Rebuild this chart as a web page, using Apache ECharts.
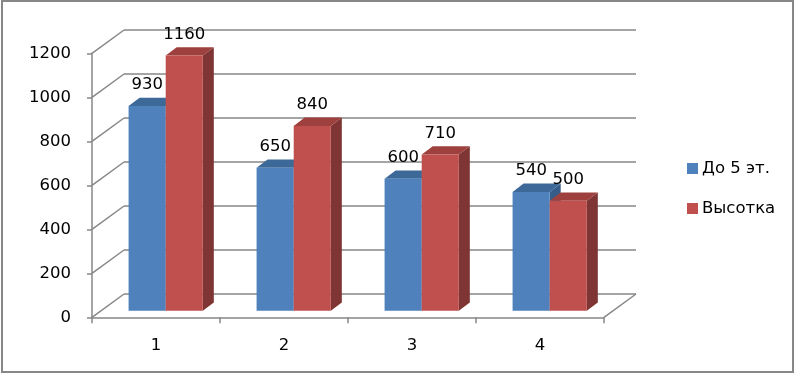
<!DOCTYPE html>
<html>
<head>
<meta charset="utf-8">
<script src="https://cdn.jsdelivr.net/npm/echarts@6/dist/echarts.min.js"></script>
<style>
html,body{margin:0;padding:0;background:#fff;}
#chart{width:798px;height:378px;}
</style>
</head>
<body>
<div id="chart"></div>
<script>
// ---- data ----
const categories = ['1', '2', '3', '4'];
const seriesNames = ['До 5 эт.', 'Высотка'];
const lowRise = [930, 650, 600, 540];
const highRise = [1160, 840, 710, 500];
const yTicks = [0, 200, 400, 600, 800, 1000, 1200];

// ---- styling / projection constants ----
const FONT = 'DejaVu Sans';
const FS = 16.5;
const GRID_COLOR = '#878787';
const WALL_DX = 32, WALL_DY = -23.3;   // depth of the chart box
const BAR_DX = 9.7, BAR_DY = -6.6;     // bars sit inside the depth
const SIDE_DX = 11, SIDE_DY = -8.3;    // depth of each bar
const BAR_FRAC = 0.29;
const palettes = [
  {front: '#4F81BD', top: '#3D6999', side: '#365D8A'},
  {front: '#C0504D', top: '#9E403D', side: '#7E3533'}
];

const chart = echarts.init(document.getElementById('chart'));

function barRender(sIdx) {
  return function (params, api) {
    const i = api.value(0), v = api.value(1);
    const c = api.coord([i, v]);
    const c0 = api.coord([i, 0]);
    const band = api.size([1, 0])[0];
    const bw = band * BAR_FRAC;
    const cx = c[0] + BAR_DX;
    const x0 = sIdx === 0 ? cx - bw : cx;
    const x1 = x0 + bw;
    const yt = c[1] + BAR_DY, yb = c0[1] + BAR_DY;
    const p = palettes[sIdx];
    return {
      type: 'group',
      children: [
        {type: 'polygon', shape: {points: [[x1, yt], [x1 + SIDE_DX, yt + SIDE_DY], [x1 + SIDE_DX, yb + SIDE_DY], [x1, yb]]}, style: {fill: p.side}},
        {type: 'polygon', shape: {points: [[x0, yt], [x1, yt], [x1 + SIDE_DX, yt + SIDE_DY], [x0 + SIDE_DX, yt + SIDE_DY]]}, style: {fill: p.top}},
        {type: 'rect', shape: {x: x0, y: yt, width: bw, height: yb - yt}, style: {fill: p.front}}
      ]
    };
  };
}

function labelRender(sIdx) {
  return function (params, api) {
    const i = api.value(0), v = api.value(1);
    const c = api.coord([i, v]);
    const band = api.size([1, 0])[0];
    const bw = band * BAR_FRAC;
    const cx = c[0] + BAR_DX;
    const xm = sIdx === 0 ? cx - bw / 2 : cx + bw / 2;
    const yt = c[1] + BAR_DY;
    return {
      type: 'text',
      style: {x: xm, y: yt - 21, text: String(v), fill: '#000', font: FS + 'px "' + FONT + '"', align: 'center', verticalAlign: 'middle'}
    };
  };
}

function wallRender(params, api) {
  const v = api.value(0);
  const cs = params.coordSys;
  const y = api.coord([0, v])[1];
  const children = [
    {type: 'line', shape: {x1: cs.x, y1: y, x2: cs.x + WALL_DX, y2: y + WALL_DY}, style: {stroke: GRID_COLOR, lineWidth: 1.5}}
  ];
  if (v === 0) {
    children.push({type: 'line', shape: {x1: cs.x + cs.width, y1: y, x2: cs.x + cs.width + WALL_DX, y2: y + WALL_DY}, style: {stroke: GRID_COLOR, lineWidth: 1.5}});
  }
  return {type: 'group', children: children};
}

const front = {left: 92, top: 53.3, width: 512, height: 264};
const back = {left: front.left + WALL_DX, top: front.top + WALL_DY, width: front.width, height: front.height};

const option = {
  backgroundColor: '#fff',
  animation: false,
  graphic: [{type: 'rect', shape: {x: 2, y: 1, width: 791, height: 371}, style: {fill: 'none', stroke: '#878787', lineWidth: 2}, z: 100}],
  legend: {
    orient: 'vertical', left: 687, top: 160,
    padding: 0,
    itemWidth: 11, itemHeight: 11, itemGap: 23,
    icon: 'rect',
    textStyle: {fontFamily: FONT, fontSize: FS, color: '#000', lineHeight: 17, padding: [0, 0, 0, -1]},
    data: seriesNames
  },
  grid: [
    {left: front.left, top: front.top, width: front.width, height: front.height},
    {left: back.left, top: back.top, width: back.width, height: back.height}
  ],
  xAxis: [
    {type: 'category', gridIndex: 0, data: categories, boundaryGap: true,
     axisLine: {show: true, lineStyle: {color: GRID_COLOR, width: 1.5}},
     axisTick: {show: true, length: 6, lineStyle: {color: GRID_COLOR, width: 1.5}},
     axisLabel: {margin: 20, fontFamily: FONT, fontSize: FS, color: '#000'},
     splitLine: {show: false}},
    {type: 'category', gridIndex: 1, data: categories, show: false}
  ],
  yAxis: [
    {type: 'value', gridIndex: 0, min: 0, max: 1200, interval: 200,
     axisLine: {show: true, lineStyle: {color: GRID_COLOR, width: 1.5}},
     axisTick: {show: true, length: 5, lineStyle: {color: GRID_COLOR, width: 1.5}},
     axisLabel: {margin: 21, fontFamily: FONT, fontSize: FS, color: '#000', formatter: function (v) { return String(v); }},
     splitLine: {show: false}},
    {type: 'value', gridIndex: 1, min: 0, max: 1200, interval: 200,
     axisLine: {show: false}, axisTick: {show: false}, axisLabel: {show: false},
     splitLine: {show: true, lineStyle: {color: GRID_COLOR, width: 1.5}}}
  ],
  series: [
    {type: 'custom', name: 'walls', xAxisIndex: 0, yAxisIndex: 0, z: 1, silent: true,
     renderItem: wallRender, data: yTicks.map(v => [v])},
    {type: 'custom', name: seriesNames[0], xAxisIndex: 0, yAxisIndex: 0, z: 2,
     itemStyle: {color: palettes[0].front}, renderItem: barRender(0),
     data: lowRise.map((v, i) => [i, v])},
    {type: 'custom', name: seriesNames[1], xAxisIndex: 0, yAxisIndex: 0, z: 3,
     itemStyle: {color: palettes[1].front}, renderItem: barRender(1),
     data: highRise.map((v, i) => [i, v])},
    {type: 'custom', name: 'labels0', xAxisIndex: 0, yAxisIndex: 0, z: 10, silent: true,
     renderItem: labelRender(0), data: lowRise.map((v, i) => [i, v])},
    {type: 'custom', name: 'labels1', xAxisIndex: 0, yAxisIndex: 0, z: 10, silent: true,
     renderItem: labelRender(1), data: highRise.map((v, i) => [i, v])}
  ]
};
chart.setOption(option);
</script>
</body>
</html>
